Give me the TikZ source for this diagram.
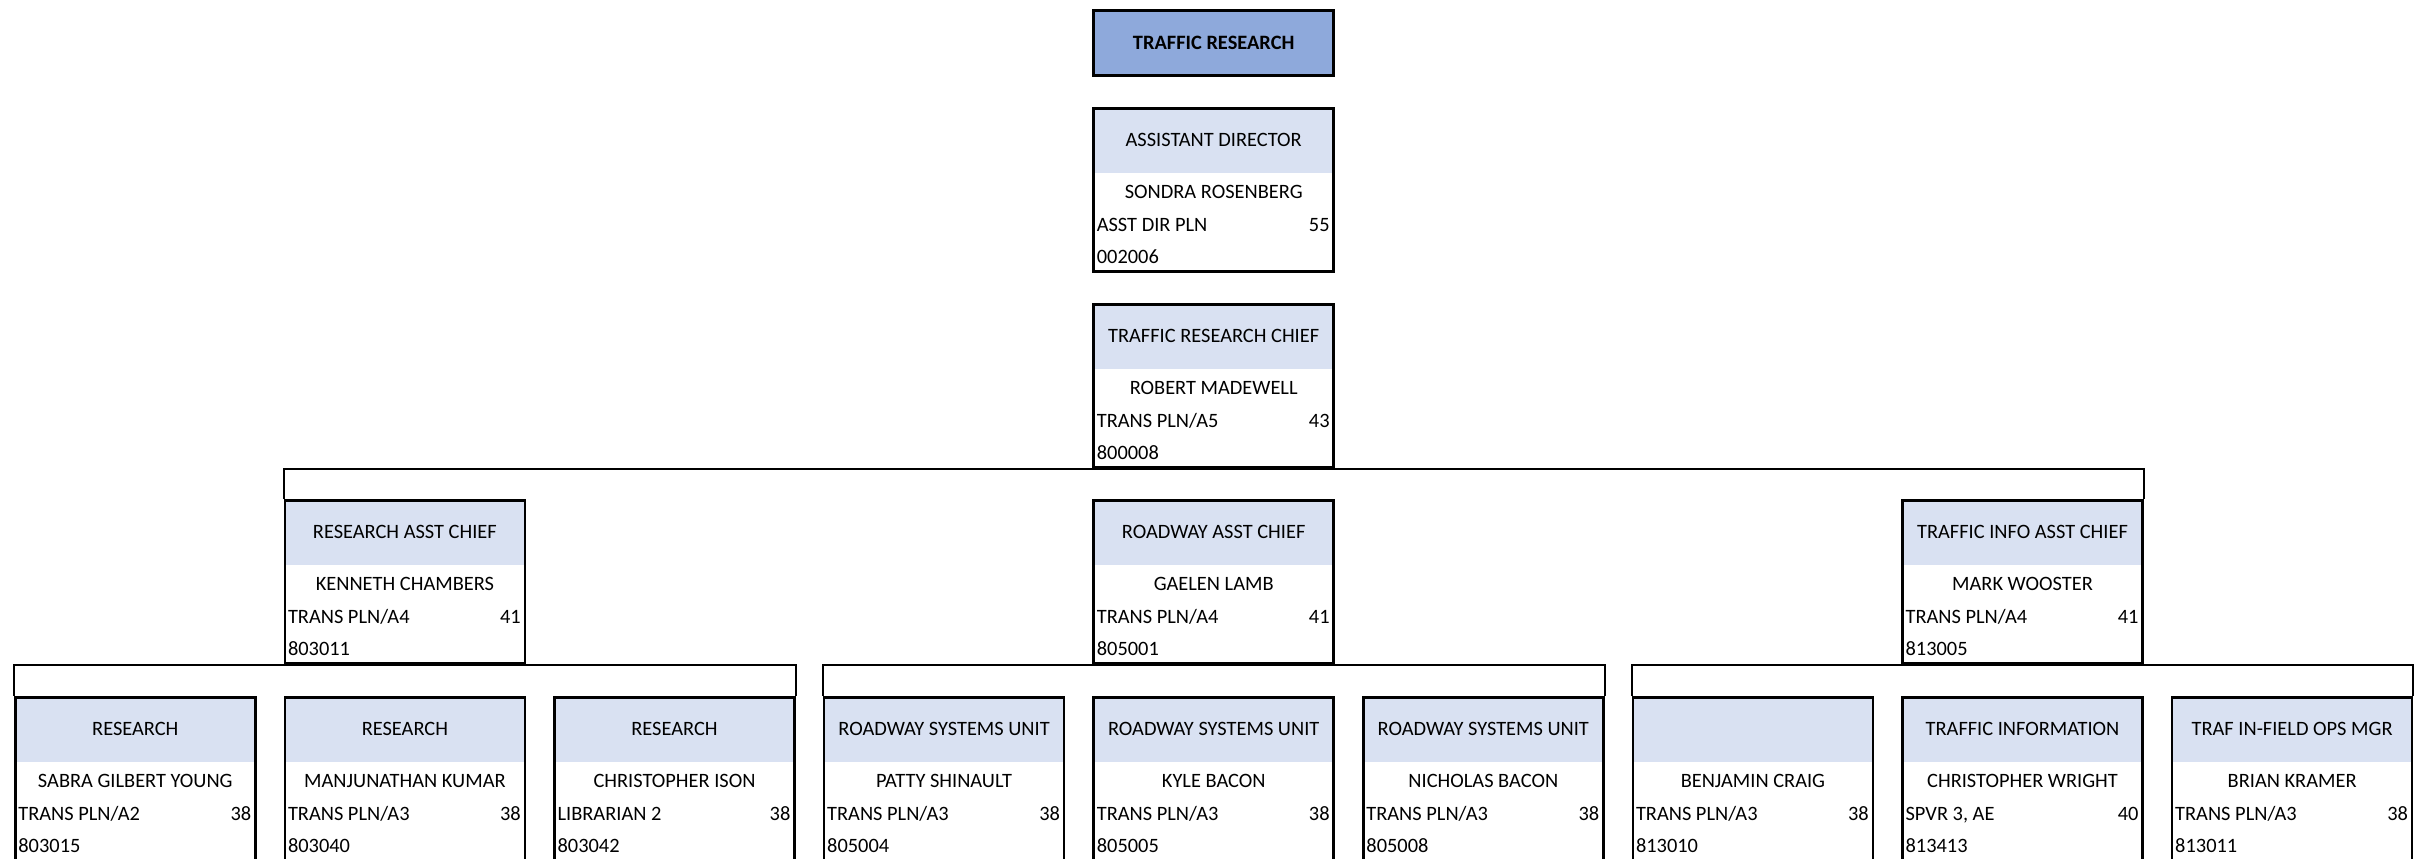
\documentclass[tikz,border=0pt]{standalone}
\usepackage{fontspec}
\setmainfont{Carlito}
\usepackage{xcolor}
\usepackage{tikz}
\usetikzlibrary{positioning}

\definecolor{headblue}{HTML}{D9E1F2}
\definecolor{topblue}{HTML}{8EA9DB}

% one position card: name, x, y, title, person, grade, level, code
\newcommand{\orgcard}[8]{%
  \node[card] (#1) at (#2,#3) {};
  \node[txt] (#1-title) at ([yshift=-16.5pt]#1.north) {#4};
  \node[txt] (#1-name) at ([yshift=-42.5pt]#1.north) {#5};
  \node[txt, anchor=west] (#1-grade) at ([xshift=2pt,yshift=-59pt]#1.north west) {#6};
  \node[txt, anchor=east] (#1-lvl) at ([xshift=-2.5pt,yshift=-59pt]#1.north east) {#7};
  \node[txt, anchor=west] (#1-code) at ([xshift=2pt,yshift=-75pt]#1.north west) {#8};
}

\begin{document}
\begin{tikzpicture}[
  x=0.5pt, y=-0.5pt,
  card/.style={draw, line width=1.3pt, anchor=north west, inner sep=0pt,
               minimum width=120pt, minimum height=81.5pt,
               path picture={\fill[headblue] (path picture bounding box.north west)
                 rectangle ([yshift=-32.5pt]path picture bounding box.north east);}},
  topbox/.style={draw, line width=1.3pt, fill=topblue, anchor=north west, inner sep=0pt,
                 minimum width=120pt, minimum height=32.5pt,
                 font=\fontsize{10.2}{12}\selectfont\bfseries},
  txt/.style={inner sep=0pt, text height=6.5pt, text depth=0pt,
              font=\fontsize{10.2}{12}\selectfont},
  bracket/.style={draw, line width=1pt}
]
  \clip (0,0) rectangle (2424,858);

  % Division
  \node[topbox] (div) at (1092.4,9) {TRAFFIC RESEARCH};

  % Top
  \orgcard{ad}{1092.4}{107}{ASSISTANT DIRECTOR}{SONDRA ROSENBERG}{ASST DIR PLN}{55}{002006}
  \orgcard{trc}{1092.4}{303}{TRAFFIC RESEARCH CHIEF}{ROBERT MADEWELL}{TRANS PLN/A5}{43}{800008}

  % Assistant chiefs
  \orgcard{rac}{283.6}{499}{RESEARCH ASST CHIEF}{KENNETH CHAMBERS}{TRANS PLN/A4}{41}{803011}
  \orgcard{rwc}{1092.4}{499}{ROADWAY ASST CHIEF}{GAELEN LAMB}{TRANS PLN/A4}{41}{805001}
  \orgcard{tic}{1901.2}{499}{TRAFFIC INFO ASST CHIEF}{MARK WOOSTER}{TRANS PLN/A4}{41}{813005}

  % Research
  \orgcard{rs1}{14}{696}{RESEARCH}{SABRA GILBERT YOUNG}{TRANS PLN/A2}{38}{803015}
  \orgcard{rs2}{283.6}{696}{RESEARCH}{MANJUNATHAN KUMAR}{TRANS PLN/A3}{38}{803040}
  \orgcard{rs3}{553.2}{696}{RESEARCH}{CHRISTOPHER ISON}{LIBRARIAN 2}{38}{803042}

  % Roadway systems
  \orgcard{rw1}{822.8}{696}{ROADWAY SYSTEMS UNIT}{PATTY SHINAULT}{TRANS PLN/A3}{38}{805004}
  \orgcard{rw2}{1092.4}{696}{ROADWAY SYSTEMS UNIT}{KYLE BACON}{TRANS PLN/A3}{38}{805005}
  \orgcard{rw3}{1362}{696}{ROADWAY SYSTEMS UNIT}{NICHOLAS BACON}{TRANS PLN/A3}{38}{805008}

  % Traffic info
  \orgcard{ti1}{1631.6}{696}{}{BENJAMIN CRAIG}{TRANS PLN/A3}{38}{813010}
  \orgcard{ti2}{1901.2}{696}{TRAFFIC INFORMATION}{CHRISTOPHER WRIGHT}{SPVR 3, AE}{40}{813413}
  \orgcard{ti3}{2170.8}{696}{TRAF IN-FIELD OPS MGR}{BRIAN KRAMER}{TRANS PLN/A3}{38}{813011}

  % Brackets
  \draw[bracket] (rac.north west) |- (trc.south) -| (tic.north east);
  \draw[bracket] (rs1.north west) |- (rac.south) -| (rs3.north east);
  \draw[bracket] (rw1.north west) |- (rwc.south) -| (rw3.north east);
  \draw[bracket] (ti1.north west) |- (tic.south) -| (ti3.north east);
\end{tikzpicture}
\end{document}
